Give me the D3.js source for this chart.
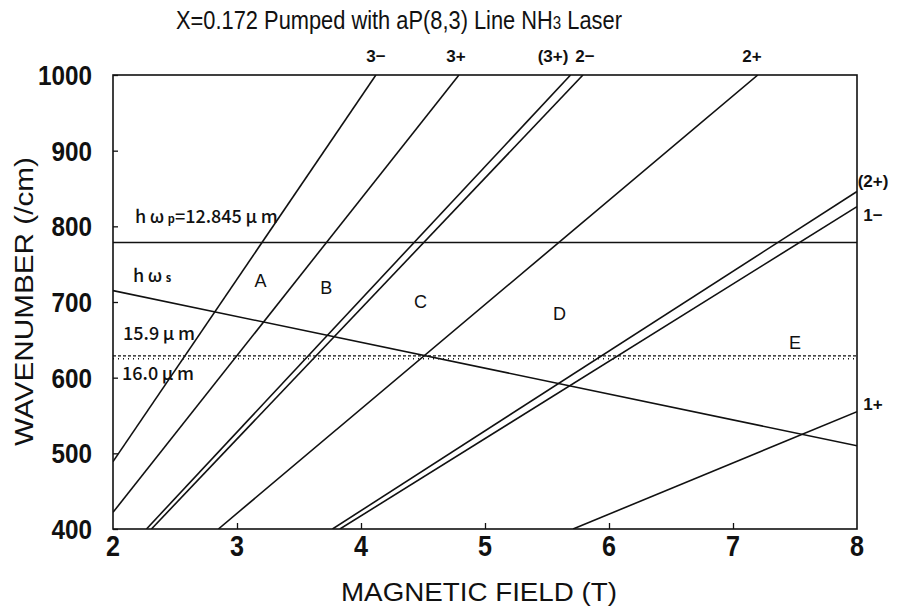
<!DOCTYPE html>
<html>
<head>
<meta charset="utf-8">
<script src="https://cdn.jsdelivr.net/npm/d3@7"></script>
<style>
  body { margin: 0; background: #fff; }
  text { fill: #111; }
</style>
</head>
<body>
<div class="chart"></div>
<script>
// values
const xTicks = [2, 3, 4, 5, 6, 7, 8]
const yTicks = [400, 500, 600, 700, 800, 900, 1000]

// Landau level lines: [field start, wavenumber start] -> [field end, wavenumber end]
const levelNames = ['3-', '3+', '(3+)', '2-', '2+', '(2+)', '1-', '1+']
const startField = [2, 2, 2.27, 2.31, 2.85, 3.77, 3.83, 5.71]
const startWave = [489, 422, 400, 400, 400, 400, 400, 400]
const endField = [4.12, 4.79, 5.69, 5.79, 7.2, 8, 8, 8]
const endWave = [1000, 1000, 1000, 1000, 1000, 846, 826, 555]

// signal line
const signalField = [2, 8]
const signalWave = [715, 510]

// pump and 15.9 / 16.0 um lines
const pumpWave = 778.5
const dashWave = [628.9, 625.0]

const regionNames = ['A', 'B', 'C', 'D', 'E']
const regionField = [3.19, 3.72, 4.48, 5.6, 7.5]
const regionWave = [729, 720, 701, 686, 647]

const width = 899, height = 606
const margin = {left: 113, right: 42, top: 75, bottom: 77}

const svg = d3.select('.chart')
    .append('svg')
        .attr('width', width)
        .attr('height', height)

const x = d3.scaleLinear().domain([2, 8]).range([margin.left, width - margin.right])
const y = d3.scaleLinear().domain([400, 1000]).range([height - margin.bottom, margin.top])

const font = '"Liberation Sans", Arial, sans-serif'
const jfont = '"Noto Sans CJK JP", "Noto Sans", sans-serif'

svg.append('defs').append('clipPath').attr('id', 'plot')
    .append('rect')
        .attr('x', x(2)).attr('y', y(1000))
        .attr('width', x(8) - x(2)).attr('height', y(400) - y(1000))

const g = svg.append('g').attr('clip-path', 'url(#plot)')

// pump line
g.append('line')
    .attr('x1', x(2)).attr('x2', x(8))
    .attr('y1', y(pumpWave)).attr('y2', y(pumpWave))
    .attr('stroke', '#111').attr('stroke-width', 1.5)

// dashed lines
g.selectAll('.dash')
    .data(dashWave)
    .join('line')
        .attr('class', 'dash')
        .attr('x1', x(2)).attr('x2', x(8))
        .attr('y1', d => y(d)).attr('y2', d => y(d))
        .attr('stroke', '#111').attr('stroke-width', 1.3)
        .attr('stroke-dasharray', (d, i) => i == 0 ? '3,2' : '1,4')

// signal line
g.append('line')
    .attr('x1', x(signalField[0])).attr('x2', x(signalField[1]))
    .attr('y1', y(signalWave[0])).attr('y2', y(signalWave[1]))
    .attr('stroke', '#111').attr('stroke-width', 1.6)

// level lines
g.selectAll('.level')
    .data(levelNames)
    .join('line')
        .attr('class', 'level')
        .attr('x1', (d, i) => x(startField[i]))
        .attr('y1', (d, i) => y(startWave[i]))
        .attr('x2', (d, i) => x(endField[i]))
        .attr('y2', (d, i) => y(endWave[i]))
        .attr('stroke', '#111').attr('stroke-width', 1.6)

// frame
svg.append('rect')
    .attr('x', x(2)).attr('y', y(1000))
    .attr('width', x(8) - x(2)).attr('height', y(400) - y(1000))
    .attr('fill', 'none').attr('stroke', '#111').attr('stroke-width', 1.6)

// axes with inward ticks
const yAxis = svg.append('g')
    .attr('transform', `translate(${x(2)},0)`)
    .call(d3.axisRight(y).tickValues(yTicks).tickSize(5).tickFormat(''))
yAxis.select('.domain').remove()
yAxis.selectAll('line').attr('stroke', '#111').attr('stroke-width', 1.3)

const xAxis = svg.append('g')
    .attr('transform', `translate(0,${y(400)})`)
    .call(d3.axisTop(x).tickValues(xTicks.slice(1, -1)).tickSize(6).tickFormat(''))
xAxis.select('.domain').remove()
xAxis.selectAll('line').attr('stroke', '#111').attr('stroke-width', 1.3)

// tick labels (condensed bold digits)
svg.selectAll('.ylab')
    .data(yTicks)
    .join('text')
        .attr('class', 'ylab')
        .attr('x', 92).attr('y', d => y(d) + 10)
        .attr('text-anchor', 'end')
        .attr('textLength', d => String(d).length * 13.5)
        .attr('lengthAdjust', 'spacingAndGlyphs')
        .style('font-family', font).style('font-size', '28px').style('font-weight', 'bold')
        .text(d => d)

svg.selectAll('.xlab')
    .data(xTicks)
    .join('text')
        .attr('class', 'xlab')
        .attr('x', d => x(d) - 7).attr('y', 556)
        .attr('textLength', 14)
        .attr('lengthAdjust', 'spacingAndGlyphs')
        .style('font-family', font).style('font-size', '29px').style('font-weight', 'bold')
        .text(d => d)

// axis titles
svg.append('text')
    .attr('x', 341).attr('y', 601)
    .attr('textLength', 276)
    .attr('lengthAdjust', 'spacingAndGlyphs')
    .style('font-family', font).style('font-size', '26px')
    .text('MAGNETIC FIELD (T)')

svg.append('text')
    .attr('transform', `translate(33,${y(700)}) rotate(-90)`)
    .attr('x', -144)
    .attr('textLength', 289)
    .attr('lengthAdjust', 'spacingAndGlyphs')
    .style('font-family', font).style('font-size', '26px')
    .text('WAVENUMBER (/cm)')

// title, squeezed horizontally like the original print
const title = svg.append('text')
    .attr('transform', 'translate(399,29) scale(0.84,1)')
    .attr('text-anchor', 'middle')
    .style('font-family', font).style('font-size', '26px').style('font-weight', 500)
title.append('tspan').text('X=0.172 Pumped with aP(8,3) Line NH')
title.append('tspan').style('font-size', '18px').text('3')
title.append('tspan').text(' Laser')

// level labels: top and right
const topLabels = ['3-', '3+', '(3+)', '2-', '2+']
const topLabelX = [376, 456, 553, 585, 752]
svg.selectAll('.toplab')
    .data(topLabels)
    .join('text')
        .attr('class', 'toplab')
        .attr('x', (d, i) => topLabelX[i]).attr('y', 62)
        .attr('text-anchor', 'middle')
        .style('font-family', font).style('font-size', '17px').style('font-weight', 'bold')
        .text(d => d.replace('-', '\u2212'))

const rightLabels = ['(2+)', '1-', '1+']
const rightLabelWave = [860, 815, 565]
svg.selectAll('.rightlab')
    .data(rightLabels)
    .join('text')
        .attr('class', 'rightlab')
        .attr('x', 873).attr('y', (d, i) => y(rightLabelWave[i]) + 6)
        .attr('text-anchor', 'middle')
        .style('font-family', font).style('font-size', '17px').style('font-weight', 'bold')
        .text(d => d.replace('-', '\u2212'))

// region labels
svg.selectAll('.region')
    .data(regionNames)
    .join('text')
        .attr('class', 'region')
        .attr('x', (d, i) => x(regionField[i])).attr('y', (d, i) => y(regionWave[i]) + 7)
        .attr('text-anchor', 'middle')
        .style('font-family', font).style('font-size', '18px').style('font-weight', 500)
        .text(d => d)

// line annotations
const notes = svg.append('g')
    .style('font-family', jfont).style('font-size', '18px').style('font-weight', 500)

const pump = notes.append('text').attr('x', 135).attr('y', 223)
pump.append('tspan').text('h\u2009\u03c9\u2009')
pump.append('tspan').style('font-size', '11px').style('font-weight', 'bold').text('p')
pump.append('tspan').text('=12.845\u2009\u03bc\u2009m')

const sig = notes.append('text').attr('x', 133).attr('y', 282)
sig.append('tspan').text('h\u2009\u03c9\u2009')
sig.append('tspan').style('font-size', '11px').style('font-weight', 'bold').text('s')

notes.append('text').attr('x', 123).attr('y', 340)
    .text('15.9\u2009\u03bc\u2009m')
notes.append('text').attr('x', 122).attr('y', 380)
    .text('16.0\u2009\u03bc\u2009m')
</script>
</body>
</html>
